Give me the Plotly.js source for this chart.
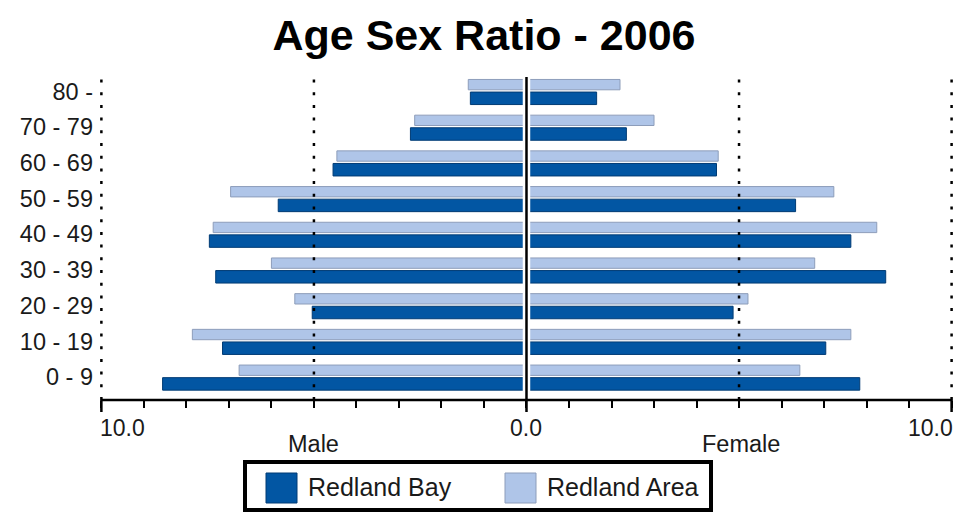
<!DOCTYPE html>
<html>
<head>
<meta charset="utf-8">
<script src="https://cdn.plot.ly/plotly-3.0.1.min.js"></script>
<style>
html,body{margin:0;padding:0;background:#fff;}
#chart{width:955px;height:514px;}
</style>
</head>
<body>
<div id="chart"></div>
<script>
// ---- data ----
const ageGroups = ['0 - 9', '10 - 19', '20 - 29', '30 - 39', '40 - 49', '50 - 59', '60 - 69', '70 - 79', '80 -'];
const seriesNames = ['Redland Bay', 'Redland Area'];
const bayMale     = [8.56, 7.15, 5.04, 7.31, 7.46, 5.84, 4.55, 2.73, 1.32];
const bayFemale   = [7.84, 7.04, 4.86, 8.45, 7.63, 6.33, 4.47, 2.35, 1.65];
const areaMale    = [6.76, 7.86, 5.45, 6.00, 7.37, 6.96, 4.46, 2.63, 1.37];
const areaFemale  = [6.43, 7.63, 5.21, 6.78, 8.24, 7.23, 4.51, 3.00, 2.20];
const sideLabels  = ['Male', 'Female'];
const tickLabels  = ['10.0', '0.0', '10.0'];
const tickValues  = [-10, 0, 10];
const gridValues  = [-10, -5, 5, 10];

// ---- styling ----
const FONT = 'Liberation Sans, Arial, sans-serif';
const DARK = '#0256a3', DARK_EDGE = '#003b74';
const LIGHT = '#afc5e8', LIGHT_EDGE = '#8d9dba';

// plot area in pixels
const M = {l: 95, r: 0, t: 75, b: 114};
const W = 955, H = 514;
const PW = W - M.l - M.r, PH = H - M.t - M.b;
const px2x = p => (p - M.l) / PW;          // paper x
const py2y = p => (H - M.b - p) / PH;      // paper y

const neg = a => a.map(v => -v);

function barTrace(name, xs, color, edge, width, offset) {
  return {
    type: 'bar', orientation: 'h', name: name,
    x: xs, y: ageGroups,
    width: width, offset: offset,
    marker: {color: color, line: {color: edge, width: 1}},
    showlegend: false, hoverinfo: 'x+y+name'
  };
}

const traces = [
  barTrace(seriesNames[0], neg(bayMale), DARK, DARK_EDGE, 0.35, -0.368),
  barTrace(seriesNames[0], bayFemale, DARK, DARK_EDGE, 0.35, -0.368),
  barTrace(seriesNames[1], neg(areaMale), LIGHT, LIGHT_EDGE, 0.29, 0.045),
  barTrace(seriesNames[1], areaFemale, LIGHT, LIGHT_EDGE, 0.29, 0.045)
];

const shapes = [];
// dotted grid lines (above bars)
gridValues.forEach(v => shapes.push({
  type: 'line', xref: 'x', yref: 'paper', x0: v, x1: v, y0: 0, y1: 1,
  line: {color: '#000', width: 2.5, dash: '3px,9.7px'}, layer: 'above'
}));
// white gap around centre, then centre line
shapes.push({type: 'line', xref: 'x', yref: 'paper', x0: 0, x1: 0, y0: 0.003, y1: 1,
  line: {color: '#fff', width: 7.5}, layer: 'above'});
shapes.push({type: 'line', xref: 'x', yref: 'paper', x0: 0, x1: 0, y0: py2y(412), y1: 1 - 2 / PH,
  line: {color: '#000', width: 2.5}, layer: 'above'});
// bottom axis line
shapes.push({type: 'line', xref: 'x', yref: 'paper', x0: -10, x1: 10, y0: 0, y1: 0,
  line: {color: '#000', width: 2.5}, layer: 'above'});
// long end ticks
[-10, 10].forEach(v => shapes.push({type: 'line', xref: 'x', yref: 'paper', x0: v, x1: v,
  y0: py2y(412), y1: 0, line: {color: '#000', width: 2.5}, layer: 'above'}));

// manual legend
shapes.push({type: 'rect', xref: 'paper', yref: 'paper',
  x0: px2x(245), x1: px2x(711), y0: py2y(462), y1: py2y(510),
  line: {color: '#000', width: 4}, fillcolor: '#fff', layer: 'above'});
shapes.push({type: 'rect', xref: 'paper', yref: 'paper',
  x0: px2x(266), x1: px2x(297), y0: py2y(473), y1: py2y(503),
  line: {color: DARK_EDGE, width: 1}, fillcolor: DARK, layer: 'above'});
shapes.push({type: 'rect', xref: 'paper', yref: 'paper',
  x0: px2x(505), x1: px2x(536), y0: py2y(473), y1: py2y(503),
  line: {color: LIGHT_EDGE, width: 1}, fillcolor: LIGHT, layer: 'above'});

const annFont = {family: FONT, size: 23, color: '#1a1a1a'};
const annotations = [];
// x tick labels
tickValues.forEach((v, i) => annotations.push({
  xref: 'x', yref: 'paper', x: v, y: py2y(428), text: tickLabels[i], showarrow: false,
  xanchor: i === 0 ? 'left' : (i === tickValues.length - 1 ? 'right' : 'center'),
  yanchor: 'middle', font: annFont, xshift: i === 0 ? -3 : (i === tickValues.length - 1 ? 3 : 0)
}));
// Male / Female
annotations.push({xref: 'x', yref: 'paper', x: -5, y: py2y(444), text: sideLabels[0],
  showarrow: false, xanchor: 'center', yanchor: 'middle', font: {family: FONT, size: 23.5, color: '#1a1a1a'}});
annotations.push({xref: 'x', yref: 'paper', x: 5.05, y: py2y(444), text: sideLabels[1],
  showarrow: false, xanchor: 'center', yanchor: 'middle', font: {family: FONT, size: 23.5, color: '#1a1a1a'}});
// legend texts
annotations.push({xref: 'paper', yref: 'paper', x: px2x(306), y: py2y(487), text: seriesNames[0],
  showarrow: false, xanchor: 'left', yanchor: 'middle', font: {family: FONT, size: 25, color: '#1a1a1a'}});
annotations.push({xref: 'paper', yref: 'paper', x: px2x(545), y: py2y(487), text: seriesNames[1],
  showarrow: false, xanchor: 'left', yanchor: 'middle', font: {family: FONT, size: 25, color: '#1a1a1a'}});

const layout = {
  width: W, height: H,
  margin: M,
  paper_bgcolor: '#fff', plot_bgcolor: '#fff',
  barmode: 'overlay',
  showlegend: false,
  title: {
    text: 'Age Sex Ratio - 2006',
    xref: 'container', yref: 'container', x: 484 / W, y: 1 - 35 / H,
    xanchor: 'center', yanchor: 'middle',
    font: {family: FONT, size: 43, color: '#000', weight: 'bold'}
  },
  xaxis: {
    range: [-10.15, 10.08],
    tickmode: 'linear', tick0: 0, dtick: 1,
    ticks: 'outside', ticklen: 7, tickwidth: 2, tickcolor: '#000',
    showticklabels: false, showgrid: false, zeroline: false, showline: false,
    fixedrange: true
  },
  yaxis: {
    type: 'category', categoryorder: 'array', categoryarray: ageGroups,
    range: [-0.644, 8.46],
    ticks: '', showgrid: false, zeroline: false, showline: false,
    tickfont: {family: FONT, size: 23.5, color: '#1a1a1a'},
    ticklabelstandoff: 1,
    fixedrange: true
  },
  shapes: shapes,
  annotations: annotations
};

Plotly.newPlot('chart', traces, layout, {displayModeBar: false, staticPlot: true});
</script>
</body>
</html>
